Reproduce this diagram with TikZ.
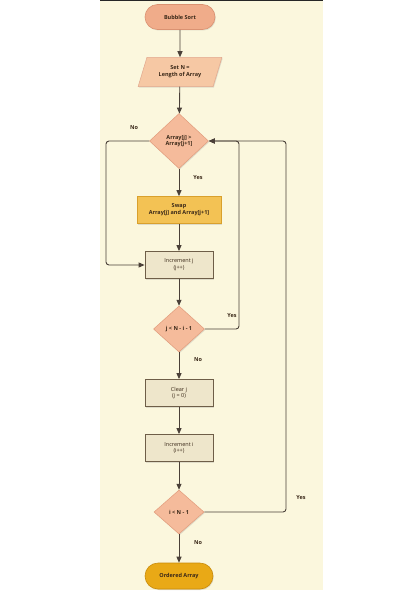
\documentclass[tikz,border=0pt]{standalone}
\usepackage{fontspec}
\setmainfont{Open Sans}
\usetikzlibrary{shapes.geometric,shapes.misc,shadows,arrows.meta}
\definecolor{panel}{HTML}{FBF7DD}
\definecolor{txt}{HTML}{3A2818}
\definecolor{salmon}{HTML}{F0AC8A}
\definecolor{salmonb}{HTML}{DB9272}
\definecolor{para}{HTML}{F6C8A4}
\definecolor{dia}{HTML}{F5BB9B}
\definecolor{diab}{HTML}{E29C7C}
\definecolor{boxf}{HTML}{EEE6CB}
\definecolor{boxb}{HTML}{6E5E48}
\definecolor{swapf}{HTML}{F3C254}
\definecolor{swapb}{HTML}{D9A02C}
\definecolor{goldf}{HTML}{E9A916}
\definecolor{goldb}{HTML}{C98B0A}
\definecolor{lin}{HTML}{4A4038}
\tikzset{
  x=1pt,y=-1pt,
  every node/.style={font=\fontsize{5.5}{6.8}\selectfont\bfseries, text=txt, align=center, inner sep=0pt},
  shad/.style={drop shadow={opacity=0.22, shadow xshift=0.8pt, shadow yshift=-1pt}},
  pill/.style={rounded rectangle, draw=salmonb, fill=salmon, line width=0.6pt, minimum width=70pt, minimum height=25pt, shad},
  parab/.style={trapezium, trapezium left angle=65, trapezium right angle=115, draw=salmonb!80, fill=para, line width=0.5pt, minimum width=84pt, minimum height=29pt, trapezium stretches=true, shad},
  dec/.style={diamond, draw=diab, fill=dia, line width=0.5pt, shad},
  proc/.style={rectangle, draw=boxb, fill=boxf, line width=0.8pt, minimum width=68pt, minimum height=27pt, shad, font=\fontsize{5.5}{6.8}\selectfont\mdseries},
  swapbox/.style={rectangle, draw=swapb, fill=swapf, line width=0.7pt, minimum width=84pt, minimum height=27pt, shad},
  goldpill/.style={rounded rectangle, draw=goldb, fill=goldf, line width=0.6pt, minimum width=68pt, minimum height=26pt, shad},
  conn/.style={draw=lin, line width=0.9pt, -{Triangle[length=6pt,width=5pt]}, rounded corners=3pt},
  lab/.style={font=\fontsize{5.5}{6.5}\selectfont\bfseries, text=txt}
}
\begin{document}
\begin{tikzpicture}
\useasboundingbox (0,0) rectangle (420,594);
\fill[white] (0,0) rectangle (420,594);
\fill[panel] (100,0) rectangle (323,590);
\fill[black!85] (100,0) rectangle (323,1.5);

\node[pill] (start) at (180,17) {Bubble Sort};
\node[parab] (setn) at (180,72) {Set N =\\Length of Array};
\node[dec, minimum width=59pt, minimum height=55pt] (d1) at (179,141) {};
\node at (179,141) {Array[j] >\\Array[j+1]};
\node[swapbox] (swap) at (179,210) {Swap\\Array[j] and Array[j+1]};
\node[proc] (incj) at (179,265) {Increment j\\(j++)};
\node[dec, minimum width=51pt, minimum height=46pt] (d2) at (179,329) {};
\node at (179,329) {j < N - i - 1};
\node[proc] (clrj) at (179,393) {Clear j\\(j = 0)};
\node[proc] (inci) at (179,448) {Increment i\\(i++)};
\node[dec, minimum width=50pt, minimum height=44pt] (d3) at (179,512) {};
\node at (179,512) {i < N - 1};
\node[goldpill] (endn) at (179,576) {Ordered Array};

\coordinate (a1) at (106,141);
\coordinate (a2) at (106,265);
\coordinate (b1) at (239,329);
\coordinate (b2) at (239,141);
\coordinate (c1) at (286,512);
\coordinate (c2) at (286,141);

\draw[conn] (start) -- (setn);
\draw[conn] (setn) -- (d1);
\draw[conn] (d1) -- (swap);
\draw[conn] (swap) -- (incj);
\draw[conn] (incj) -- (d2);
\draw[conn] (d2) -- (clrj);
\draw[conn] (clrj) -- (inci);
\draw[conn] (inci) -- (d3);
\draw[conn] (d3) -- (endn);
\draw[conn] (d1.west) -- (a1) -- (a2) -- (incj.west);
\draw[conn] (d3.east) -- (c1) -- (c2) -- (d1.east);
\draw[conn] (d2.east) -- (b1) -- (b2) -- (d1.east);

\node[lab] at (134,128) {No};
\node[lab] at (198,178) {Yes};
\node[lab] at (232,316) {Yes};
\node[lab] at (198,360) {No};
\node[lab] at (301,498) {Yes};
\node[lab] at (198,543) {No};
\end{tikzpicture}
\end{document}
